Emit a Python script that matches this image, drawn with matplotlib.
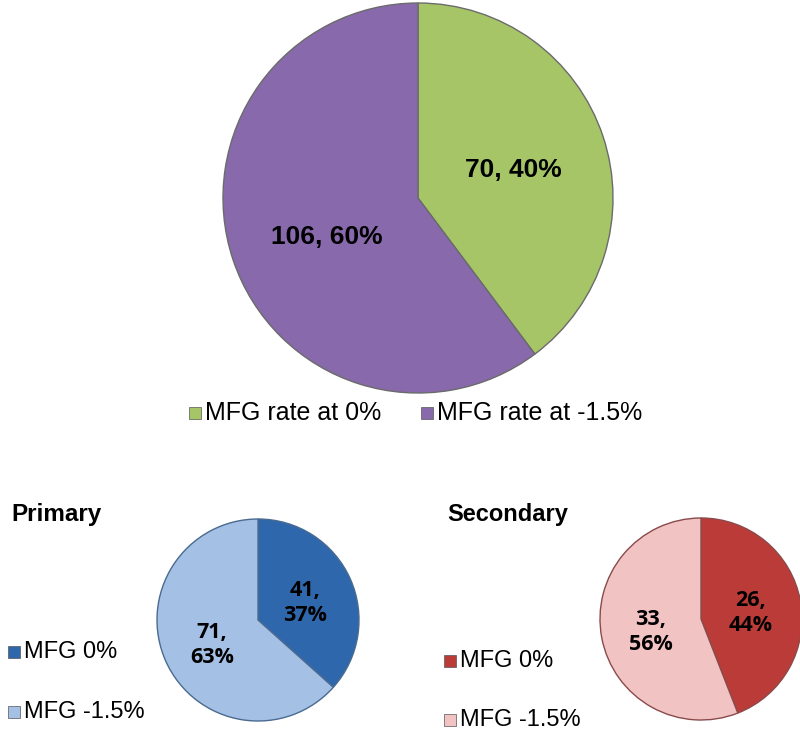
import matplotlib
matplotlib.use("Agg")
import matplotlib.pyplot as plt

# data
top_labels = ["MFG rate at 0%", "MFG rate at -1.5%"]
top_values = [70, 106]
top_colors = ["#A6C566", "#8769AC"]

prim_labels = ["MFG 0%", "MFG -1.5%"]
prim_values = [41, 71]
prim_colors = ["#2F67AD", "#A4C0E4"]

sec_labels = ["MFG 0%", "MFG -1.5%"]
sec_values = [26, 33]
sec_colors = ["#BB3B38", "#F2C3C3"]

plt.rcParams['font.family'] = ['Liberation Sans', 'DejaVu Sans']

fig = plt.figure(figsize=(8, 7.36), dpi=100)
ax = fig.add_axes([0, 0, 1, 1])
ax.set_xlim(0, 800)
ax.set_ylim(0, 736)
ax.set_aspect('equal')
ax.axis('off')

H = 736


def pie(values, colors, cx, cy, r, edge):
    wedges, _ = ax.pie(values, colors=colors, center=(cx, H - cy), radius=r,
                       startangle=90, counterclock=False,
                       wedgeprops=dict(edgecolor=edge, linewidth=1.0))
    return wedges


def pct(values):
    tot = sum(values)
    return [round(100 * v / tot) for v in values]


def legend_item(x, y, label, color, size):
    ax.plot(x, H - y, marker='s', markersize=8.5, color=color,
            markeredgecolor='#555555', markeredgewidth=0.5, clip_on=False)
    ax.text(x + 10, H - y, label, fontsize=size, va='center', ha='left')


def small_label(x, y, text):
    ax.text(x, H - y, text, fontsize=15.5, fontweight='bold', ha='center',
            va='center', family=['Open Sans', 'DejaVu Sans'], linespacing=1.2)


# top pie
pie(top_values, top_colors, 418, 198, 195, '#6b6b6b')
p = pct(top_values)
ax.text(513, H - 170, f"{top_values[0]}, {p[0]}%", fontsize=19, fontweight='bold',
        ha='center', va='center')
ax.text(327, H - 237, f"{top_values[1]}, {p[1]}%", fontsize=19, fontweight='bold',
        ha='center', va='center')
legend_item(195, 413, top_labels[0], top_colors[0], 18)
legend_item(427, 413, top_labels[1], top_colors[1], 18)

# primary
ax.text(11, H - 515, "Primary", fontsize=17.5, fontweight='bold', ha='left', va='center')
pie(prim_values, prim_colors, 258, 620, 101, '#4a6a90')
p = pct(prim_values)
small_label(305, 603, f"{prim_values[0]},\n{p[0]}%")
small_label(212, 645, f"{prim_values[1]},\n{p[1]}%")
legend_item(14, 652, prim_labels[0], prim_colors[0], 17)
legend_item(14, 712, prim_labels[1], prim_colors[1], 17)

# secondary
ax.text(447, H - 515, "Secondary", fontsize=17, fontweight='bold', ha='left', va='center')
pie(sec_values, sec_colors, 701, 619, 101, '#8a4a4a')
p = pct(sec_values)
small_label(751, 613, f"{sec_values[0]},\n{p[0]}%")
small_label(651, 632, f"{sec_values[1]},\n{p[1]}%")
legend_item(450, 661, sec_labels[0], sec_colors[0], 17)
legend_item(450, 720, sec_labels[1], sec_colors[1], 17)

ax.set_xlim(0, 800)
ax.set_ylim(0, 736)
fig.savefig("out.png", dpi=100)
